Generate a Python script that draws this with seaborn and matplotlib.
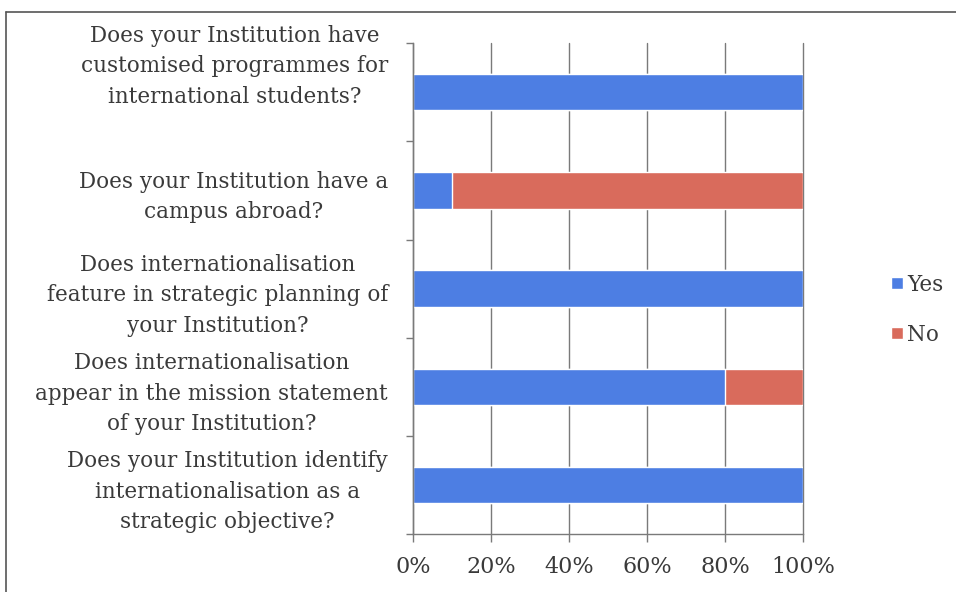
import pandas as pd
import seaborn as sns
import matplotlib.pyplot as plt
import matplotlib.transforms as mtrans
from matplotlib.lines import Line2D
from matplotlib.patches import Patch

questions = [
    "Does your Institution have\ncustomised programmes for\ninternational students?",
    "Does your Institution have a\ncampus abroad?",
    "Does internationalisation\nfeature in strategic planning of\nyour Institution?",
    "Does internationalisation\nappear in the mission statement\nof your Institution?",
    "Does your Institution identify\ninternationalisation as a\nstrategic objective?",
]
yes_pct = [100, 10, 100, 80, 100]
no_pct = [0, 90, 0, 20, 0]
x_ticks = [0, 20, 40, 60, 80, 100]
x_labels = ["0%", "20%", "40%", "60%", "80%", "100%"]

blue = "#4D7EE3"
red = "#D96B5C"
text_col = "#3a3a3a"
line_col = "#7a7a7a"

df = pd.DataFrame({"question": questions, "Yes": yes_pct, "No": no_pct})
df["total"] = df["Yes"] + df["No"]

sns.set_style("white")
plt.rcParams["font.family"] = ["DejaVu Serif"]

fig = plt.figure(figsize=(9.56, 5.92), dpi=100)
ax = fig.add_axes([0.432, 0.098, 0.408, 0.829])

ax.grid(axis="x", color=line_col, lw=1)
ax.set_axisbelow(True)

sns.barplot(data=df, y="question", x="total", color=red, width=0.37,
            saturation=1, ax=ax, orient="h")
sns.barplot(data=df, y="question", x="Yes", color=blue, width=0.37,
            saturation=1, ax=ax, orient="h")

ax.set_xlim(0, 100)
ax.set_ylim(4.5, -0.5)
ax.set_xticks(x_ticks)
ax.set_xticklabels(x_labels, fontsize=16, color=text_col)
ax.set_yticks(range(len(questions)))
ax.set_yticklabels(questions, fontsize=15.5, color=text_col, ha="right",
                   multialignment="center", linespacing=1.5)
ax.tick_params(axis="y", length=0, pad=18)
ax.tick_params(axis="x", length=6, width=1, color=line_col, pad=10,
               direction="out", bottom=True)
for gl in ax.get_xgridlines():
    gl.set_clip_on(False)

# the top label sits higher than its bar in the original
first = ax.get_yticklabels()[0]
first.set_transform(first.get_transform() +
                    mtrans.ScaledTranslation(0, 0.33, fig.dpi_scale_trans))

# category boundary ticks on the y axis
ax.set_yticks([i - 0.5 for i in range(len(questions) + 1)], minor=True)
ax.tick_params(axis="y", which="minor", length=5, width=1, color=line_col,
               left=True)

ax.set_xlabel("")
ax.set_ylabel("")
for side in ["top", "right"]:
    ax.spines[side].set_visible(False)
for side in ["left", "bottom"]:
    ax.spines[side].set_color(line_col)
    ax.spines[side].set_linewidth(1)

handles = [Patch(facecolor=blue, label="Yes"), Patch(facecolor=red, label="No")]
fig.legend(handles=handles, loc="center left", bbox_to_anchor=(0.912, 0.477),
           frameon=False, fontsize=15.5, handlelength=0.55, handleheight=0.55,
           handletextpad=0.2, labelspacing=1.3, labelcolor=text_col)

# frame lines around the picture (top and left only are visible)
fig.add_artist(Line2D([6 / 956, 1], [1 - 12 / 592, 1 - 12 / 592],
                      transform=fig.transFigure, color="#555555", lw=1.2))
fig.add_artist(Line2D([6 / 956, 6 / 956], [0, 1 - 12 / 592],
                      transform=fig.transFigure, color="#555555", lw=1.2))

fig.savefig("out.png", dpi=100)
